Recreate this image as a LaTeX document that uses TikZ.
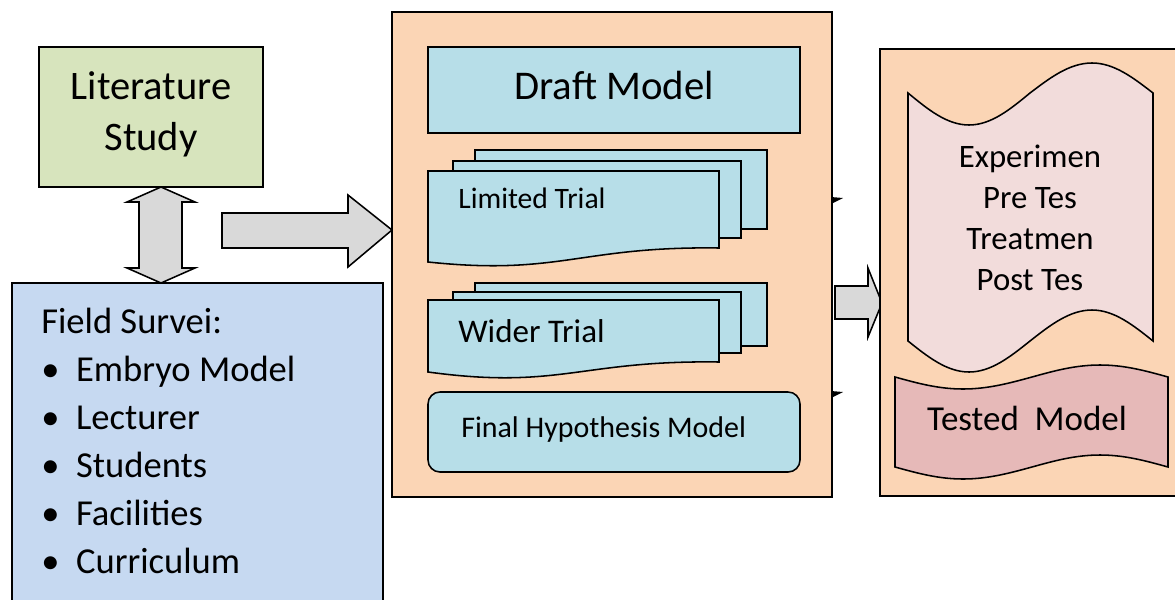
\documentclass[tikz,border=0pt]{standalone}
\usepackage{fontspec}
\setmainfont{Carlito}
\usepackage{tikz}
\definecolor{litGreen}{HTML}{D7E4BD}
\definecolor{surveyBlue}{HTML}{C6D9F1}
\definecolor{stagePeach}{HTML}{FBD5B5}
\definecolor{modelBlue}{HTML}{B7DEE8}
\definecolor{testPink}{HTML}{F2DCDB}
\definecolor{testRose}{HTML}{E6B9B8}
\definecolor{arrowGray}{HTML}{D9D9D9}

\begin{document}
\begin{tikzpicture}[x=0.025cm,y=-0.025cm,
    part/.style={draw=black, line width=1.1pt},
    txt/.style={inner sep=0pt, text=black}]
    \useasboundingbox (0,0) rectangle (1175,599);
    \clip (0,0) rectangle (1175,599);
    \fill [part, fill=litGreen] (39,47) rectangle (263,187);
    \node (lit) [txt, align=center, anchor=base, font=\fontsize{28.8}{36}\selectfont] at (151,150) {Literature\\Study};
    \fill [part, fill=arrowGray] (161,187) -- (195,202) -- (182,202) -- (182,268) -- (195,268) -- (161,283) -- (127,268) -- (139,268) -- (139,202) -- (127,202) -- cycle;
    \fill [part, fill=surveyBlue] (12,283) rectangle (383,615);
    \node (survey) [txt, align=left, anchor=base west, font=\fontsize{26}{34}\selectfont] at (41,573) {Field Survei:\\
        \makebox[24.8pt][l]{\textbullet}Embryo Model\\
        \makebox[24.8pt][l]{\textbullet}Lecturer\\
        \makebox[24.8pt][l]{\textbullet}Students\\
        \makebox[24.8pt][l]{\textbullet}Facilities\\
        \makebox[24.8pt][l]{\textbullet}Curriculum};
    \fill [part, fill=arrowGray] (222,213) -- (348,213) -- (348,195) -- (392,230) -- (348,267) -- (348,248) -- (222,248) -- cycle;
    \fill [part, fill=stagePeach] (392,12) rectangle (832,497);
    \fill [part, fill=modelBlue] (428,47) rectangle (800,133);
    \node (draft) [txt, anchor=base, font=\fontsize{29}{35}\selectfont] at (614,99) {Draft Model};
    \fill [part, fill=modelBlue] (475,150) rectangle (767,229);
    \fill [part, fill=modelBlue] (453,161) rectangle (741,238);
    \fill [part, fill=modelBlue] (428,171) -- (719,171) -- (719,248) .. controls (580,246) and (560,276) .. (428,262) -- cycle;
    \node (limited) [txt, anchor=base west, font=\fontsize{21.1}{25}\selectfont] at (458,208) {Limited Trial};
    \fill [part, fill=modelBlue] (475,283) rectangle (767,346);
    \fill [part, fill=modelBlue] (453,292) rectangle (741,353);
    \fill [part, fill=modelBlue] (428,300) -- (719,300) -- (719,362) .. controls (580,360) and (560,390) .. (428,372) -- cycle;
    \node (wider) [txt, anchor=base west, font=\fontsize{23.5}{28}\selectfont] at (458,342) {Wider Trial};
    \fill [part, fill=modelBlue, rounded corners=8.5pt] (428,392) rectangle (800,472);
    \node (final) [txt, anchor=base west, font=\fontsize{21.3}{25}\selectfont] at (461,437) {Final Hypothesis Model};
    \fill [black] (831,197) -- (843,198) -- (831,204) -- cycle;
    \fill [black] (831,391) -- (843,392) -- (831,398) -- cycle;
    \fill [part, fill=arrowGray] (835,286) -- (868,286) -- (868,268) -- (882,303) -- (868,337) -- (868,319) -- (835,319) -- cycle;
    \fill [part, fill=stagePeach] (880,49) rectangle (1190,496);
    \fill [part, fill=testPink] (908,93) sin (969,125) cos (1030,93) sin (1092,63) cos (1153,93) -- (1153,341) sin (1092,310) cos (1030,341) sin (969,372) cos (908,341) -- cycle;
    \node (exper) [txt, align=center, anchor=base, font=\fontsize{23.3}{29.1}\selectfont] at (1030,290) {Experimen\\Pre Tes\\Treatmen\\Post Tes};
    \fill [part, fill=testRose] (895,377) sin (963,389) cos (1032,377) sin (1100,365) cos (1168,377) -- (1168,467) sin (1100,455) cos (1032,467) sin (963,479) cos (895,467) -- cycle;
    \node (tested) [txt, anchor=base, font=\fontsize{24.9}{30}\selectfont] at (1027,430) {Tested~ Model};
\end{tikzpicture}
\end{document}
